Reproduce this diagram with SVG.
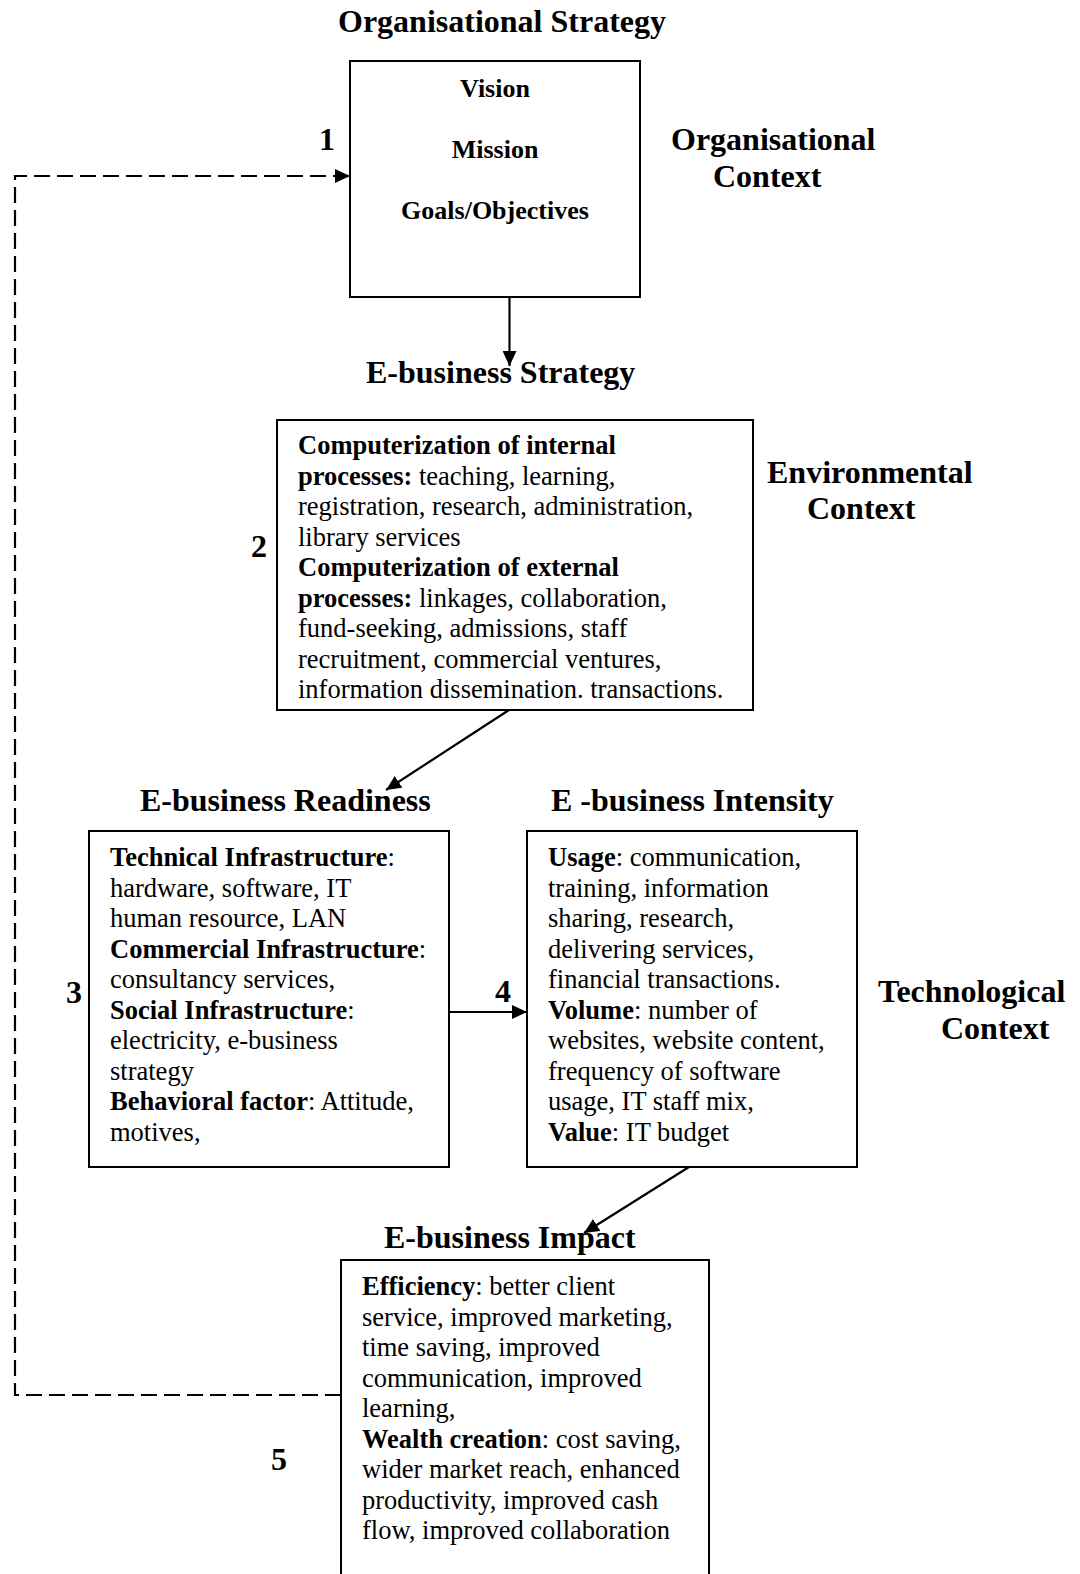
<svg xmlns="http://www.w3.org/2000/svg" width="1080" height="1574" viewBox="0 0 1080 1574">
  <style>
    text { font-family: "Liberation Serif", "Times New Roman", serif; fill: #000; }
    .head { font-size: 32px; font-weight: bold; }
    .num { font-size: 32px; font-weight: bold; }
    .core { font-size: 26px; font-weight: bold; text-anchor: middle; }
    .body { font-size: 26.5px; }
    .b { font-weight: bold; }
    .box { fill: #fff; stroke: #000; stroke-width: 2; }
    .link { fill: none; stroke: #000; stroke-width: 2.2; }
    .loop { fill: none; stroke: #000; stroke-width: 2.2; stroke-dasharray: 16 7; }
  </style>
  <defs>
    <marker id="tip" viewBox="0 0 15 14" refX="15" refY="7" markerWidth="15" markerHeight="14" markerUnits="userSpaceOnUse" orient="auto">
      <path d="M0,0 L15,7 L0,14 z" fill="#000"/>
    </marker>
  </defs>
  <rect width="1080" height="1574" fill="#fff"/>

  <!-- context labels -->
  <g id="context-labels" class="head">
    <text x="671" y="150">Organisational</text>
    <text x="713" y="187">Context</text>
    <text x="767" y="483">Environmental</text>
    <text x="807" y="519">Context</text>
    <text x="878" y="1002">Technological</text>
    <text x="941" y="1039">Context</text>
  </g>

  <!-- stage numbers -->
  <g id="stage-numbers" class="num">
    <text x="319" y="150">1</text>
    <text x="251" y="557">2</text>
    <text x="66" y="1003">3</text>
    <text x="495" y="1002">4</text>
    <text x="271" y="1470">5</text>
  </g>

  <!-- connectors -->
  <g id="connectors">
    <line class="link" x1="509.5" y1="297" x2="509.5" y2="366" marker-end="url(#tip)"/>
    <line class="link" x1="509" y1="710" x2="386" y2="790" marker-end="url(#tip)"/>
    <line class="link" x1="449" y1="1012" x2="527" y2="1012" marker-end="url(#tip)"/>
    <line class="link" x1="689" y1="1167" x2="584" y2="1233" marker-end="url(#tip)"/>
    <path class="loop" d="M341,1395 H15 V176 H350" marker-end="url(#tip)"/>
  </g>

  <!-- 1: organisational strategy -->
  <g id="organisational-strategy">
    <text class="head" x="338" y="32">Organisational Strategy</text>
    <rect class="box" x="350" y="61" width="290" height="236"/>
    <text class="core" x="495" y="97">Vision</text>
    <text class="core" x="495" y="158">Mission</text>
    <text class="core" x="495" y="219">Goals/Objectives</text>
  </g>

  <!-- 2: e-business strategy -->
  <g id="ebusiness-strategy">
    <text class="head" x="366" y="383">E-business Strategy</text>
    <rect class="box" x="277" y="420" width="476" height="290"/>
    <g class="body">
      <text x="298" y="454"><tspan class="b">Computerization of internal</tspan></text>
      <text x="298" y="484.5"><tspan class="b">processes:</tspan> teaching, learning,</text>
      <text x="298" y="515">registration, research, administration,</text>
      <text x="298" y="545.5">library services</text>
      <text x="298" y="576"><tspan class="b">Computerization of external</tspan></text>
      <text x="298" y="606.5"><tspan class="b">processes:</tspan> linkages, collaboration,</text>
      <text x="298" y="637">fund-seeking, admissions, staff</text>
      <text x="298" y="667.5">recruitment, commercial ventures,</text>
      <text x="298" y="698">information dissemination. transactions.</text>
    </g>
  </g>

  <!-- 3: e-business readiness -->
  <g id="ebusiness-readiness">
    <text class="head" x="140" y="811">E-business Readiness</text>
    <rect class="box" x="89" y="831" width="360" height="336"/>
    <g class="body">
      <text x="110" y="866"><tspan class="b">Technical Infrastructure</tspan>:</text>
      <text x="110" y="896.5">hardware, software, IT</text>
      <text x="110" y="927">human resource, LAN</text>
      <text x="110" y="957.5"><tspan class="b">Commercial Infrastructure</tspan>:</text>
      <text x="110" y="988">consultancy services,</text>
      <text x="110" y="1018.5"><tspan class="b">Social Infrastructure</tspan>:</text>
      <text x="110" y="1049">electricity, e-business</text>
      <text x="110" y="1079.5">strategy</text>
      <text x="110" y="1110"><tspan class="b">Behavioral factor</tspan>: Attitude,</text>
      <text x="110" y="1140.5">motives,</text>
    </g>
  </g>

  <!-- 4: e-business intensity -->
  <g id="ebusiness-intensity">
    <text class="head" x="551" y="811">E -business Intensity</text>
    <rect class="box" x="527" y="831" width="330" height="336"/>
    <g class="body">
      <text x="548" y="866"><tspan class="b">Usage</tspan>: communication,</text>
      <text x="548" y="896.5">training, information</text>
      <text x="548" y="927">sharing, research,</text>
      <text x="548" y="957.5">delivering services,</text>
      <text x="548" y="988">financial transactions.</text>
      <text x="548" y="1018.5"><tspan class="b">Volume</tspan>: number of</text>
      <text x="548" y="1049">websites, website content,</text>
      <text x="548" y="1079.5">frequency of software</text>
      <text x="548" y="1110">usage, IT staff mix,</text>
      <text x="548" y="1140.5"><tspan class="b">Value</tspan>: IT budget</text>
    </g>
  </g>

  <!-- 5: e-business impact -->
  <g id="ebusiness-impact">
    <rect class="box" x="341" y="1260" width="368" height="330"/>
    <text class="head" x="384" y="1248">E-business Impact</text>
    <g class="body">
      <text x="362" y="1295"><tspan class="b">Efficiency</tspan>: better client</text>
      <text x="362" y="1325.5">service, improved marketing,</text>
      <text x="362" y="1356">time saving, improved</text>
      <text x="362" y="1386.5">communication, improved</text>
      <text x="362" y="1417">learning,</text>
      <text x="362" y="1447.5"><tspan class="b">Wealth creation</tspan>: cost saving,</text>
      <text x="362" y="1478">wider market reach, enhanced</text>
      <text x="362" y="1508.5">productivity, improved cash</text>
      <text x="362" y="1539">flow, improved collaboration</text>
    </g>
  </g>
</svg>
